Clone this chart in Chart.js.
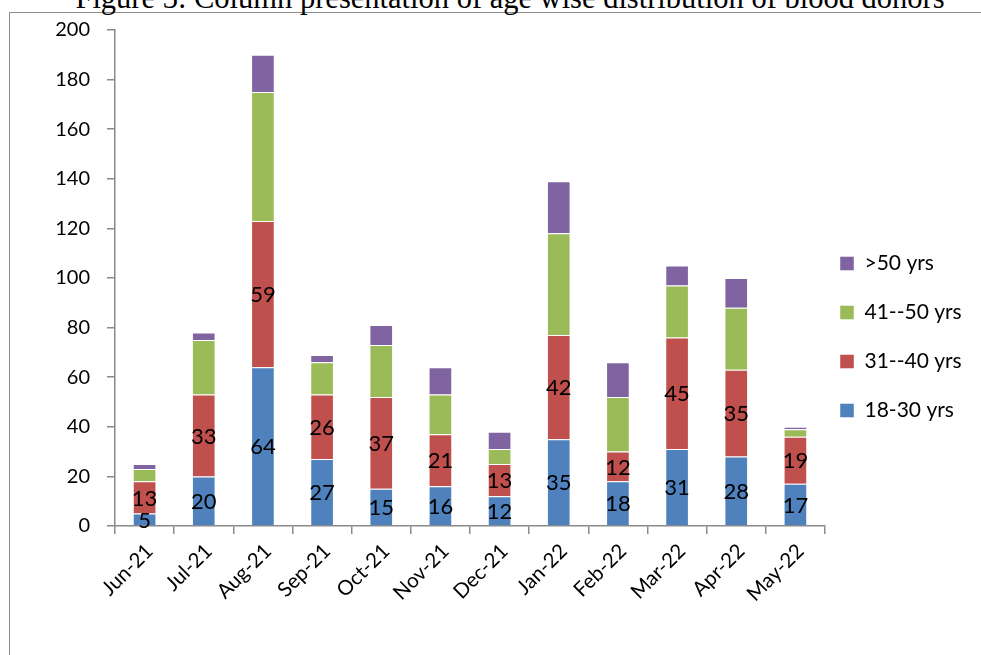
<!DOCTYPE html>
<html>
<head>
<meta charset="utf-8">
<title>Age wise distribution of blood donors</title>
<script src="https://cdn.jsdelivr.net/npm/chart.js@4/dist/chart.umd.min.js"></script>
<style>
  html, body { margin: 0; padding: 0; background: #fff; overflow: hidden; }
  #wrap { position: relative; width: 981px; height: 655px; overflow: hidden; }
  #frame { position: absolute; left: 9px; top: 12px; width: 1100px; height: 800px;
           border-left: 1.5px solid #8c8c8c; border-top: 1.5px solid #8c8c8c; }
  #title { position: absolute; left: 0; top: -17.5px; width: 1020px; text-align: center;
           font: 30.5px/30.5px "Liberation Serif", "Times New Roman", serif; color: #000; white-space: nowrap; }
  #chart { position: absolute; left: 0; top: 0; }
</style>
</head>
<body>
<div id="wrap">
  <div id="frame"></div>
  <div id="title">Figure 3: Column presentation of age wise distribution of blood donors</div>
  <canvas id="chart" width="981" height="655"></canvas>
</div>
<script>
// Monthly donors, split by age group
const months = ['Jun-21', 'Jul-21', 'Aug-21', 'Sep-21', 'Oct-21', 'Nov-21',
                'Dec-21', 'Jan-22', 'Feb-22', 'Mar-22', 'Apr-22', 'May-22'];
const age18to30 = [5, 20, 64, 27, 15, 16, 12, 35, 18, 31, 28, 17];
const age31to40 = [13, 33, 59, 26, 37, 21, 13, 42, 12, 45, 35, 19];
const age41to50 = [5, 22, 52, 13, 21, 16, 6, 41, 22, 21, 25, 3];
const ageOver50 = [2, 3, 15, 3, 8, 11, 7, 21, 14, 8, 12, 1];
const groupNames = ['18-30 yrs', '31--40 yrs', '41--50 yrs', '>50 yrs'];
const yMin = 0, yMax = 200, yStep = 20;

const colors = ['#4F81BD', '#C0504D', '#9BBB59', '#8064A2'];
const axisColor = '#8a8a8a';
const uiFont = 'Lato, "Open Sans", sans-serif';

// Value labels centred inside the two lower segments of each column
const segmentLabels = {
  id: 'segmentLabels',
  afterDatasetsDraw(chart) {
    const ctx = chart.ctx;
    ctx.save();
    ctx.font = '22px ' + uiFont;
    ctx.fillStyle = '#000';
    ctx.textAlign = 'center';
    ctx.textBaseline = 'middle';
    [0, 1].forEach(di => {
      const meta = chart.getDatasetMeta(di);
      meta.data.forEach((bar, i) => {
        const v = chart.data.datasets[di].data[i];
        const p = bar.getProps(['x', 'y', 'base'], true);
        ctx.fillText(String(v), p.x, (p.y + p.base) / 2 + 1);
      });
    });
    ctx.restore();
  }
};

// Keep the legend just right of the plot, centred on the column block
const legendPlacement = {
  id: 'legendPlacement',
  afterLayout(chart) {
    const lg = chart.legend;
    if (!lg) return;
    const pad = lg.options.labels.padding;
    const dx = chart.chartArea.right + 15 - (lg.left + pad);
    lg.left += dx;
    lg.right = chart.width;
    lg.width = lg.right - lg.left;
    const dy = (674 - (lg.top + lg.bottom)) / 2;
    lg.top += dy; lg.bottom += dy;
  }
};

const datasets = [age18to30, age31to40, age41to50, ageOver50].map((vals, i) => ({
  label: groupNames[i],
  data: vals,
  backgroundColor: colors[i],
  borderColor: 'rgba(255,255,255,0.45)',
  borderWidth: 1,
  barPercentage: 0.4,
  categoryPercentage: 1.0
}));

new Chart(document.getElementById('chart'), {
  type: 'bar',
  data: { labels: months, datasets },
  plugins: [segmentLabels, legendPlacement],
  options: {
    responsive: false,
    animation: false,
    layout: { padding: { top: 30, left: 0, right: 56, bottom: 0 } },
    plugins: {
      title: { display: false },
      tooltip: { enabled: false },
      legend: {
        position: 'right',
        reverse: true,
        maxWidth: 100,
        labels: {
          font: { family: uiFont, size: 21 },
          color: '#000',
          boxWidth: 14,
          boxHeight: 14,
          padding: 28
        }
      }
    },
    scales: {
      x: {
        stacked: true,
        grid: { display: true, drawOnChartArea: false, drawTicks: true, tickLength: 8,
                color: axisColor, lineWidth: 1.5, offset: true },
        border: { display: true, color: axisColor, width: 1.5 },
        ticks: { font: { family: uiFont, size: 20.5 }, color: '#000',
                 minRotation: 45, maxRotation: 45, autoSkip: false, padding: 5, labelOffset: 5 },
        afterFit(s) { s.height = 129; s.paddingLeft = 0; s.paddingRight = 0; }
      },
      y: {
        stacked: true,
        min: yMin,
        max: yMax,
        grid: { display: true, drawOnChartArea: false, drawTicks: true, tickLength: 8,
                color: axisColor, lineWidth: 1.5 },
        border: { display: true, color: axisColor, width: 1.5 },
        ticks: { stepSize: yStep, font: { family: uiFont, size: 20 }, color: '#000', padding: 17 },
        afterFit(s) { s.width = 115; s.paddingTop = 0; s.paddingBottom = 0; }
      }
    }
  }
});
</script>
</body>
</html>
